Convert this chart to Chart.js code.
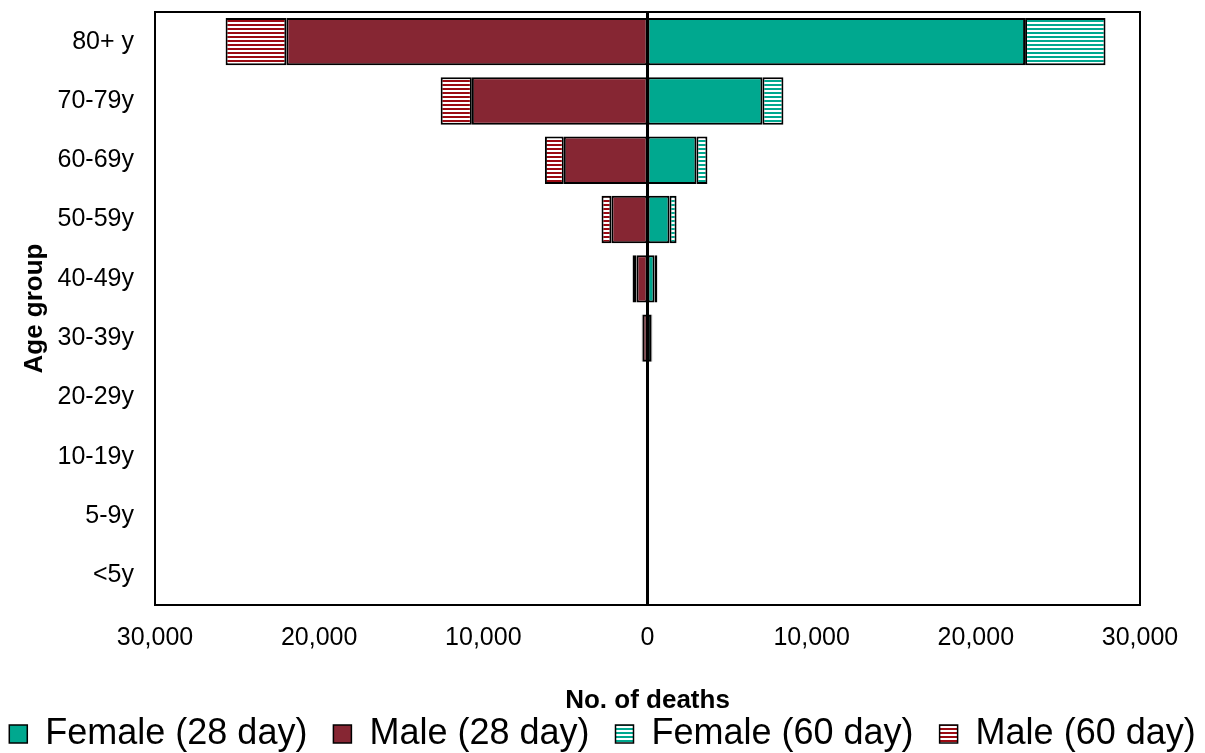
<!DOCTYPE html>
<html>
<head>
<meta charset="utf-8">
<script src="https://cdn.jsdelivr.net/npm/chart.js@4"></script>
<style>
  html, body { margin: 0; padding: 0; background: #fff; }
  #wrap { width: 1205px; height: 753px; }
</style>
</head>
<body>
<div id="wrap"><canvas id="c"></canvas></div>
<script>
const ageGroups = ["80+ y", "70-79y", "60-69y", "50-59y", "40-49y", "30-39y", "20-29y", "10-19y", "5-9y", "<5y"]
const female28 = [23000, 7000, 2980, 1340, 430, 250, 40, 0, 0, 0]
const male28 = [22000, 10700, 5100, 2200, 670, 300, 60, 0, 0, 0]
const female60Extra = [4900, 1280, 670, 430, 170, 40, 0, 0, 0, 0]
const male60Extra = [3700, 1900, 1150, 600, 240, 50, 0, 0, 0, 0]
const xTicks = [-30000, -20000, -10000, 0, 10000, 20000, 30000]

const FONT = "'Liberation Sans', Arial, sans-serif"

const stripes = (color) => {
  const p = document.createElement("canvas")
  p.width = 4
  p.height = 4
  const g = p.getContext("2d")
  g.fillStyle = "#fff"
  g.fillRect(0, 0, 4, 4)
  g.fillStyle = color
  g.fillRect(0, 0, 4, 2)
  return g.createPattern(p, "repeat")
}

// black box round the plot and the thick zero line
const frame = {
  id: "frame",
  afterDatasetsDraw(chart) {
    const { ctx, chartArea: a, scales } = chart
    const x0 = scales.x.getPixelForValue(0)
    ctx.save()
    ctx.strokeStyle = "#000"
    ctx.lineWidth = 3
    ctx.beginPath()
    ctx.moveTo(x0, a.top)
    ctx.lineTo(x0, a.bottom)
    ctx.stroke()
    ctx.lineWidth = 2
    ctx.strokeRect(a.left, a.top, a.right - a.left, a.bottom - a.top)
    ctx.restore()
  }
}

new Chart(document.getElementById("c"), {
  type: "bar",
  data: {
    labels: ageGroups,
    datasets: [
      { label: "Female (28 day)", data: female28, backgroundColor: "#00a88f" },
      { label: "Male (28 day)", data: male28.map(v => -v), backgroundColor: "#862633" },
      { label: "Female (60 day)", data: female60Extra, backgroundColor: stripes("#00a88f") },
      { label: "Male (60 day)", data: male60Extra.map(v => -v), backgroundColor: stripes("#9b0a12") }
    ].map(d => ({ ...d, borderColor: "#000", borderWidth: 2, borderSkipped: false, barPercentage: 0.8, categoryPercentage: 1 }))
  },
  options: {
    responsive: true,
    maintainAspectRatio: false,
    animation: false,
    indexAxis: "y",
    layout: { padding: { left: 0, right: 0, top: 0, bottom: -9 } },
    plugins: {
      legend: {
        position: "bottom",
        labels: {
          color: "#000",
          font: { family: FONT, size: 36, lineHeight: 1 },
          boxWidth: 18,
          boxHeight: 18,
          padding: 6,
          generateLabels(chart) {
            const items = Chart.defaults.plugins.legend.labels.generateLabels(chart)
            items.forEach((it, i) => {
              it.lineWidth = 1.5
              if (i < items.length - 1) it.text += "  "
            })
            return items
          }
        }
      },
      tooltip: { enabled: false }
    },
    scales: {
      x: {
        stacked: true,
        min: -30000,
        max: 30000,
        afterBuildTicks(axis) { axis.ticks = xTicks.map(v => ({ value: v })) },
        afterFit(axis) { axis.paddingLeft = 0; axis.paddingRight = 65 },
        grid: { display: false, drawTicks: false, tickLength: 0 },
        border: { display: false },
        ticks: {
          color: "#000",
          padding: 18,
          maxRotation: 0,
          font: { family: FONT, size: 25 },
          callback: v => Math.abs(v).toLocaleString("en-US")
        },
        title: {
          display: true,
          text: "No. of deaths",
          color: "#000",
          font: { family: FONT, size: 26, weight: "bold", lineHeight: 1 },
          padding: { top: 17, bottom: -4 }
        }
      },
      y: {
        stacked: true,
        afterFit(axis) { axis.width = 155; axis.paddingTop = 12; axis.paddingBottom = 0 },
        grid: { display: false, drawTicks: false, tickLength: 0 },
        border: { display: false },
        ticks: {
          color: "#000",
          padding: 21,
          font: { family: FONT, size: 25 }
        },
        title: {
          display: true,
          text: "Age group",
          color: "#000",
          font: { family: FONT, size: 26, weight: "bold", lineHeight: 1 },
          padding: { top: 22, bottom: 0 }
        }
      }
    }
  },
  plugins: [frame]
})
</script>
</body>
</html>
